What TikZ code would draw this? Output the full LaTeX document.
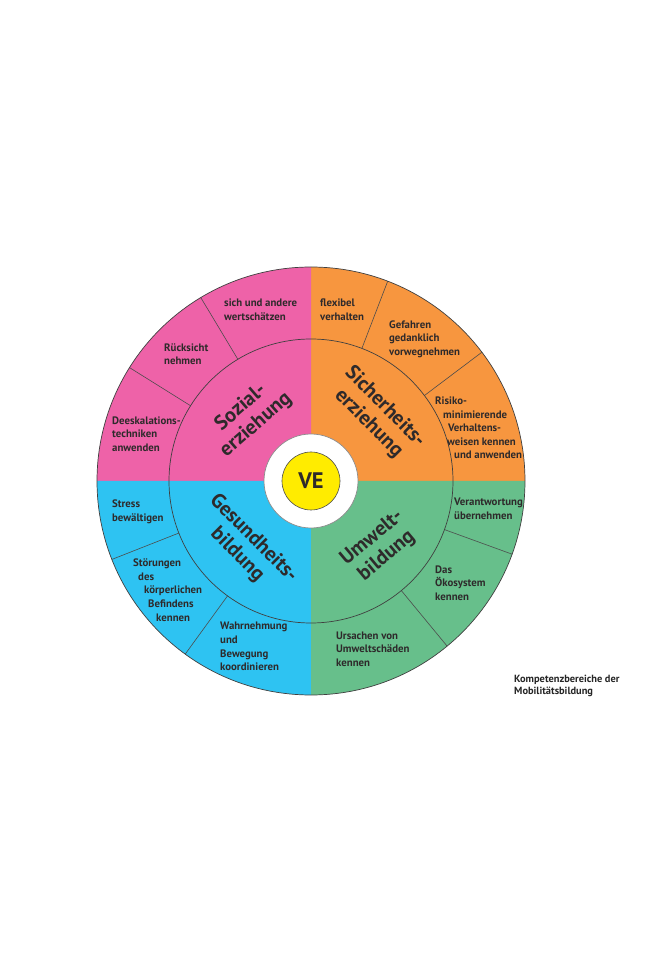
\documentclass[tikz,border=0pt]{standalone}
\usepackage{fontspec}
\setmainfont{PT Sans}
\usetikzlibrary{positioning}
\definecolor{sozialpink}{HTML}{EE62A8}
\definecolor{sicherorange}{HTML}{F7963F}
\definecolor{gesundblue}{HTML}{2EC3F2}
\definecolor{umweltgreen}{HTML}{67BF8B}
\definecolor{veyellow}{HTML}{FFEC00}
\definecolor{inktext}{HTML}{2E2A2B}
\tikzset{
  % one pt per pixel of the 670x958 sheet, centre of the wheel at the origin
  rim/.style      = {draw=black!75, line width=0.7pt},
  divider/.style  = {black!70, line width=0.6pt},
  item/.style     = {font=\bfseries\fontsize{10.8}{13.6}\selectfont, text=inktext,
                     align=left, inner sep=0pt, anchor=west},
  area/.style     = {font=\bfseries\fontsize{20.5}{23}\selectfont, text=inktext,
                     align=center, inner sep=0pt},
  caption/.style  = {font=\bfseries\fontsize{10.4}{12.5}\selectfont, text=black!85,
                     align=left, inner sep=0pt, anchor=west},
}

\begin{document}
\begin{tikzpicture}[x=1pt, y=1pt]
    \useasboundingbox (-311,-477) rectangle (359,481);
    \fill[white] (-311,-477) rectangle (359,481);

    % the four quadrants
    \fill[sicherorange] (0,0) -- (0:214pt) arc[start angle=0, end angle=90, radius=214pt] -- cycle;
    \fill[sozialpink] (0,0) -- (90:214pt) arc[start angle=90, end angle=180, radius=214pt] -- cycle;
    \fill[gesundblue] (0,0) -- (180:214pt) arc[start angle=180, end angle=270, radius=214pt] -- cycle;
    \fill[umweltgreen] (0,0) -- (270:214pt) arc[start angle=270, end angle=360, radius=214pt] -- cycle;

    \foreach \a in {121,148,69,37,-20,-50.5,201.5,234}
        \draw[divider] (\a:142pt) -- (\a:214pt);
    \draw[rim] (0,0) circle[radius=142pt];
    \draw[rim] (0,0) circle[radius=214pt];

    % hub
    \draw[draw=black!45, fill=white, line width=0.7pt] (0,0) circle[radius=47pt];
    \draw[draw=black!70, fill=veyellow, line width=0.6pt] (0,0) circle[radius=29pt];
    \node[font=\bfseries\fontsize{22.5}{22}\selectfont, text=inktext] (ve) at (0,0) {VE};

    % inner ring
    \node[area, rotate=41]  (sozial)  at (134:90pt) {Sozial-\\erziehung};
    \node[area, rotate=-45] (sicher)  at (45:93pt)  {Sicherheits-\\erziehung};
    \node[area, rotate=-45] (gesund)  at (225:93pt) {Gesundheits-\\bildung};
    \node[area, rotate=40]  (umwelt)  at (-44:95pt) {Umwelt-\\bildung};

    % outer ring
    \node[item] (wertschaetzen) at (-87,171.5) {sich und andere\\wertschätzen};
    \node[item] (ruecksicht)    at (-147,127)  {Rücksicht\\nehmen};
    \node[item] (deeskalation)  at (-199,47)   {Deeskalations-\\techniken\\anwenden};

    \node[item] (flexibel)      at (9,171.5)   {flexibel\\verhalten};
    \node[item] (gefahren)      at (78,142)    {Gefahren\\gedanklich\\vorwegnehmen};
    \node[item] (risiko)        at (124,53)    {Risiko-\\\hspace*{8pt}minimierende\\
        \hspace*{13pt}Verhaltens-\\\hspace*{12pt}weisen kennen\\\hspace*{19pt}und anwenden};

    \node[item] (stress)        at (-199,-30.5) {Stress\\bewältigen};
    \node[item] (stoerungen)    at (-178,-109)  {Störungen\\\hspace*{5pt}des\\
        \hspace*{11pt}körperlichen\\\hspace*{15pt}Befindens\\\hspace*{23pt}kennen};
    \node[item] (wahrnehmung)   at (-91,-165.5) {Wahrnehmung\\und\\Bewegung\\koordinieren};

    \node[item] (verantwortung) at (143,-27.5) {Verantwortung\\übernehmen};
    \node[item] (oekosystem)    at (124,-102)  {Das\\Ökosystem\\kennen};
    \node[item] (ursachen)      at (25,-168)   {Ursachen von\\Umweltschäden\\kennen};

    \node[caption] (titel) at (203,-205) {Kompetenzbereiche der\\Mobilitätsbildung};
\end{tikzpicture}
\end{document}
